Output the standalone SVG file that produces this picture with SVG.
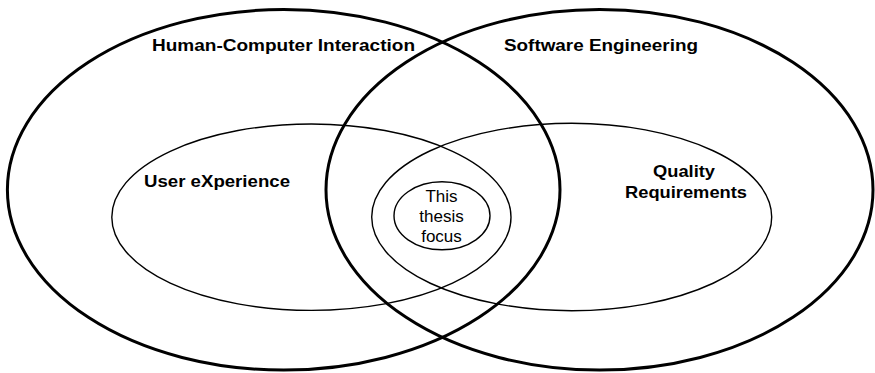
<svg xmlns="http://www.w3.org/2000/svg" width="875" height="373" viewBox="0 0 875 373">
<style>
.big{fill:none;stroke:#000;stroke-width:3}
.inner{fill:none;stroke:#000;stroke-width:1.4}
.lbl{font-family:"Liberation Sans",Arial,sans-serif;font-weight:bold;font-size:16.5px;fill:#000}
.foc{font-family:"Liberation Sans",Arial,sans-serif;font-size:17px;fill:#000;text-anchor:middle}
</style>
<rect width="875" height="373" fill="#fff"/>
<g id="hci">
<ellipse class="big" cx="283.7" cy="189.8" rx="276.3" ry="180.3"/>
<text class="lbl" x="152" y="51" textLength="263" lengthAdjust="spacingAndGlyphs">Human-Computer Interaction</text>
</g>
<g id="se">
<ellipse class="big" cx="599.5" cy="189.8" rx="273.5" ry="180.3"/>
<text class="lbl" x="504" y="51" textLength="194" lengthAdjust="spacingAndGlyphs">Software Engineering</text>
</g>
<g id="ux">
<ellipse class="inner" cx="311.4" cy="217.2" rx="199.6" ry="93.2"/>
<text class="lbl" x="144" y="187" textLength="146" lengthAdjust="spacingAndGlyphs">User eXperience</text>
</g>
<g id="qr">
<ellipse class="inner" cx="571.7" cy="217" rx="200" ry="93.7"/>
<text class="lbl" x="653" y="176.7" textLength="62" lengthAdjust="spacingAndGlyphs">Quality</text>
<text class="lbl" x="625" y="197.7" textLength="122" lengthAdjust="spacingAndGlyphs">Requirements</text>
</g>
<g id="focus">
<ellipse class="inner" cx="442" cy="215.8" rx="48" ry="34"/>
<text class="foc" x="441.5" y="202">This</text>
<text class="foc" x="441.5" y="222">thesis</text>
<text class="foc" x="441.5" y="242">focus</text>
</g>
<g id="connectors"/>
</svg>
